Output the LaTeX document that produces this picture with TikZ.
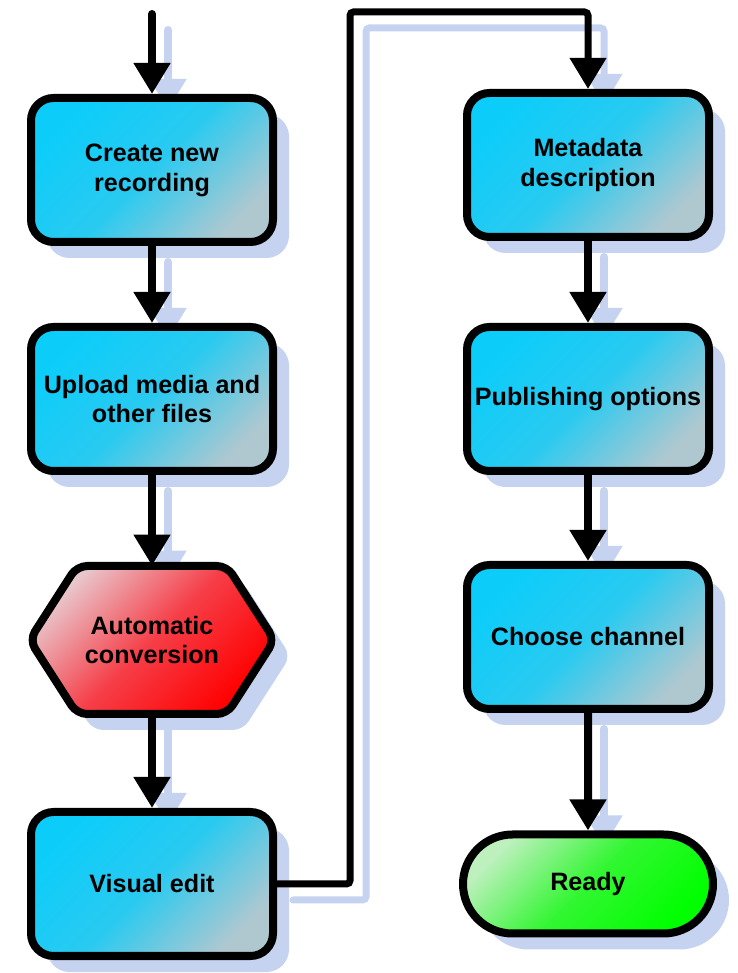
\documentclass[tikz,border=0pt]{standalone}
\usepackage{fontspec}
\setmainfont{Liberation Sans}
\usetikzlibrary{arrows.meta,shapes.misc,shadows,backgrounds}

\definecolor{boxcyan}{RGB}{12,205,250}
\definecolor{boxmid}{RGB}{42,202,240}
\definecolor{boxgrey}{RGB}{175,200,208}
\definecolor{hexlight}{RGB}{232,200,205}
\definecolor{hexmid}{RGB}{246,62,72}
\definecolor{readylight}{RGB}{190,240,190}
\definecolor{readymid}{RGB}{50,246,50}
\definecolor{shadowblue}{RGB}{198,211,240}

\tikzset{
  txt/.style={align=center, inner sep=0pt, font=\fontsize{14.3}{17}\selectfont\bfseries},
  shad/.style={drop shadow={shadow xshift=0.32cm, shadow yshift=-0.32cm, fill=shadowblue, opacity=1}},
  box/.style={txt, shad, rectangle, rounded corners=0.45cm, draw=black, line width=0.16cm,
    minimum width=4.84cm, minimum height=2.88cm,
    top color=boxcyan, bottom color=boxgrey, middle color=boxmid, shading angle=45},
  hexpath/.style={insert path={(-2.45,0) -- (-1.5,1.48) -- (1.5,1.48) -- (2.45,0)
    -- (1.5,-1.48) -- (-1.5,-1.48) -- cycle}},
  hexfill/.style={draw=black, line width=0.16cm, rounded corners=0.2cm,
    top color=hexlight, bottom color=red, middle color=hexmid, shading angle=45},
  hexbox/.style={txt, minimum width=4.9cm, minimum height=2.96cm},
  endbox/.style={txt, shad, rounded rectangle, draw=black, line width=0.16cm,
    minimum width=5cm, minimum height=1.98cm,
    top color=readylight, bottom color=green, middle color=readymid, shading angle=45},
  arr/.style={line width=0.16cm, line cap=round, -{Triangle[width=0.7cm,length=0.62cm]}},
}

\begin{document}
\begin{tikzpicture}
  \useasboundingbox (0,0) rectangle (14.76,19.46);

  % колонки
  \def \Lx { 3.04 };
  \def \Rx { 11.76 };

  % левая колонка
  \node [box] (rec) at (\Lx, 16.06) {Create new\\recording};
  \node [box] (upl) at (\Lx, 11.48) {Upload media and\\other files};

  % шестиугольник
  \fill [shadowblue, rounded corners=0.2cm, shift={(\Lx+0.32, 6.34)}, hexpath];
  \draw [hexfill, shift={(\Lx, 6.66)}, hexpath];
  \node [hexbox] (conv) at (\Lx, 6.66) {Automatic\\conversion};

  \node [box] (edit) at (\Lx, 1.78) {Visual edit};

  % правая колонка
  \node [box] (meta) at (\Rx, 16.16) {Metadata\\description};
  \node [box] (pub) at (\Rx, 11.48) {Publishing options};
  \node [box] (chan) at (\Rx, 6.72) {Choose channel};
  \node [endbox] (ready) at (\Rx, 1.78) {Ready};

  % точки линий
  \coordinate (start) at (\Lx, 19.18);
  \coordinate (top) at (7.0, 19.22);

  % тени стрелок
  \begin{pgfonlayer}{background}
    \begin{scope}[shadowblue]
      \draw [arr] ([shift={(0.32,-0.32)}]start) -- ([shift={(0.32,-0.32)}]rec.north);
      \foreach \a/\b in {rec/upl, upl/conv, conv/edit, meta/pub, pub/chan, chan/ready}
        \draw [arr] ([shift={(0.32,-0.32)}]\a.south) -- ([shift={(0.32,-0.32)}]\b.north);
      \draw [arr, line width=0.14cm, rounded corners=2pt]
        ([shift={(0.32,-0.32)}]edit.east) -| ([shift={(0.32,-0.32)}]top) -| ([shift={(0.32,-0.32)}]meta.north);
    \end{scope}
  \end{pgfonlayer}

  % стрелки
  \draw [arr] (start) -- (rec);
  \foreach \a/\b in {rec/upl, upl/conv, conv/edit, meta/pub, pub/chan, chan/ready}
    \draw [arr] (\a) -- (\b);

  % переход
  \draw [arr, line width=0.14cm, rounded corners=2pt] (edit.east) -| (top) -| (meta.north);
\end{tikzpicture}
\end{document}
